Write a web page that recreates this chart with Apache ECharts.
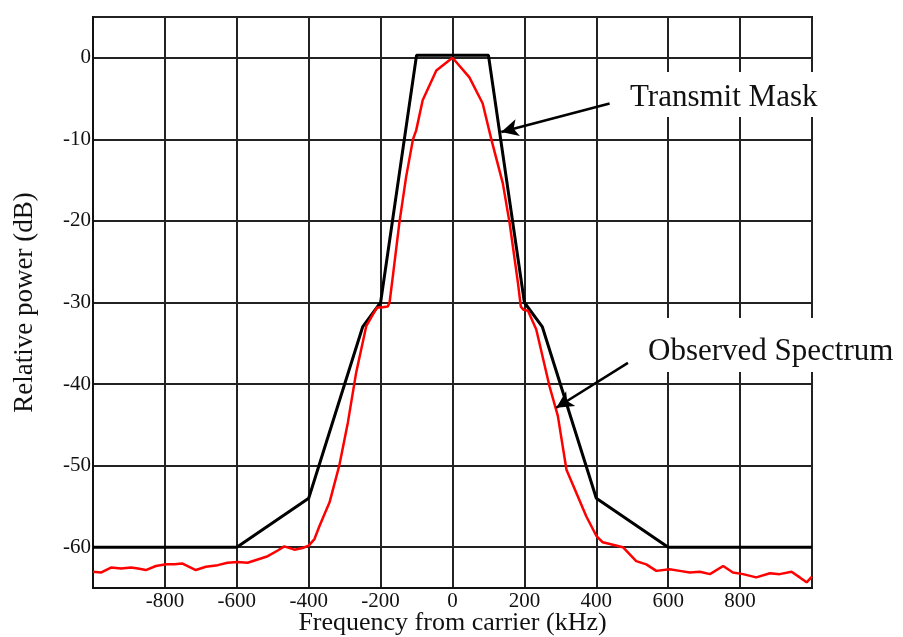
<!DOCTYPE html>
<html>
<head>
<meta charset="utf-8">
<script src="https://cdn.jsdelivr.net/npm/echarts@6/dist/echarts.min.js"></script>
<style>html,body{margin:0;padding:0;background:#fff}#c{width:903px;height:637px}</style>
</head>
<body>
<div id="c"></div>
<script>
// Data
var maskFreq  = [-1000, -600, -400, -250, -200, -100, 100, 200, 250, 400, 600, 1000];
var maskPower = [-60, -60, -54, -33, -30, 0.3, 0.3, -30, -33, -54, -60, -60];

var specFreq = [-1000,-978,-950,-922,-894,-875,-853,-825,-797,-774,-751,-714,-686,-653,-626,-598,-570,-542,-514,-486,-468,-440,-417,-400,-384,-370,-342,-315,-291,-268,-240,-210,-199,-180,-175,-166,-148,-129,-110,-101,-83,-45,0,47,84,108,140,159,182,190,198,210,233,270,293,317,344,372,400,418,446,474,511,539,567,604,632,660,688,716,753,780,808,845,883,910,943,966,985,1000];
var specPower = [-63.0,-63.1,-62.5,-62.6,-62.5,-62.6,-62.8,-62.3,-62.1,-62.1,-62.0,-62.8,-62.4,-62.2,-61.9,-61.8,-61.9,-61.5,-61.1,-60.4,-59.9,-60.3,-60.1,-59.8,-59.0,-57.4,-54.5,-50.0,-44.7,-38.6,-32.9,-30.6,-30.6,-30.5,-30.0,-26.8,-20.3,-14.6,-10.0,-8.9,-5.2,-1.55,0,-2.4,-5.6,-10,-15.4,-20.3,-27.6,-30.5,-30.9,-31,-33.3,-40.3,-43.9,-50.5,-53.3,-56.2,-58.6,-59.4,-59.7,-60,-61.7,-62.1,-62.9,-62.7,-62.9,-63.1,-63,-63.3,-62.3,-63.1,-63.3,-63.7,-63.2,-63.3,-63,-63.7,-64.3,-63.6];

var xName = 'Frequency from carrier (kHz)';
var yName = 'Relative power (dB)';
var maskLabel = 'Transmit Mask';
var specLabel = 'Observed Spectrum';
var maskArrow = [[437, -5.6], [135.6, -9.1]];
var specArrow = [[488, -37.4], [288.7, -42.9]];

function pairs(xs, ys) { return xs.map(function (x, i) { return [x, ys[i]]; }); }

var FONT = '"Liberation Serif", "Times New Roman", serif';
var chart = echarts.init(document.getElementById('c'));
chart.setOption({
  animation: false,
  backgroundColor: '#fff',
  grid: { left: 93, right: 91, top: 17, bottom: 49, outerBoundsMode: 'none', containLabel: false,
          show: true, borderColor: '#111', borderWidth: 2, backgroundColor: 'transparent' },
  xAxis: {
    type: 'value', min: -1000, max: 1000, interval: 200,
    name: xName, nameLocation: 'middle', nameGap: 22, nameMoveOverlap: false,
    nameTextStyle: { fontFamily: FONT, fontSize: 26, color: '#111' },
    axisLine: { show: true, onZero: false, lineStyle: { color: '#111', width: 2 } },
    axisTick: { show: false },
    splitLine: { show: true, lineStyle: { color: '#222', width: 2 } },
    axisLabel: { fontFamily: FONT, fontSize: 21, color: '#111', margin: 3, showMinLabel: false, showMaxLabel: false }
  },
  yAxis: {
    type: 'value', min: -65, max: 5, splitNumber: 7,
    name: yName, nameLocation: 'middle', nameGap: 55, nameMoveOverlap: false,
    nameTextStyle: { fontFamily: FONT, fontSize: 27, color: '#111' },
    axisLine: { show: true, onZero: false, lineStyle: { color: '#111', width: 2 } },
    axisTick: { show: false },
    splitLine: { show: true, lineStyle: { color: '#222', width: 2 } },
    axisLabel: { fontFamily: FONT, fontSize: 21, color: '#111', margin: 2,
      formatter: function (v) { return (v % 10 === 0) ? String(v) : ''; } }
  },
  series: [
    {
      type: 'line', name: maskLabel, data: pairs(maskFreq, maskPower),
      symbol: 'none', lineStyle: { color: '#000', width: 3 }, z: 3,
      markLine: {
        silent: true, symbol: ['none', 'arrow'], symbolSize: [13, 17],
        lineStyle: { color: '#000', width: 2.5, type: 'solid' }, label: { show: false },
        data: [
          [{ coord: maskArrow[0] }, { coord: maskArrow[1] }],
          [{ coord: specArrow[0] }, { coord: specArrow[1] }]
        ]
      }
    },
    {
      type: 'line', name: specLabel, data: pairs(specFreq, specPower),
      symbol: 'none', lineStyle: { color: '#ff0000', width: 2.5 }, z: 4
    }
  ],
  graphic: [
    { type: 'rect', shape: { x: 622, y: 72, width: 210, height: 45 }, style: { fill: '#fff' }, z: 100 },
    { type: 'text', x: 630, y: 98, style: { text: maskLabel, font: '31px ' + FONT, fill: '#111', verticalAlign: 'middle' }, z: 101 },
    { type: 'rect', shape: { x: 640, y: 318, width: 263, height: 54 }, style: { fill: '#fff' }, z: 100 },
    { type: 'text', x: 648, y: 352, style: { text: specLabel, font: '31px ' + FONT, fill: '#111', verticalAlign: 'middle' }, z: 101 }
  ]
});
</script>
</body>
</html>
